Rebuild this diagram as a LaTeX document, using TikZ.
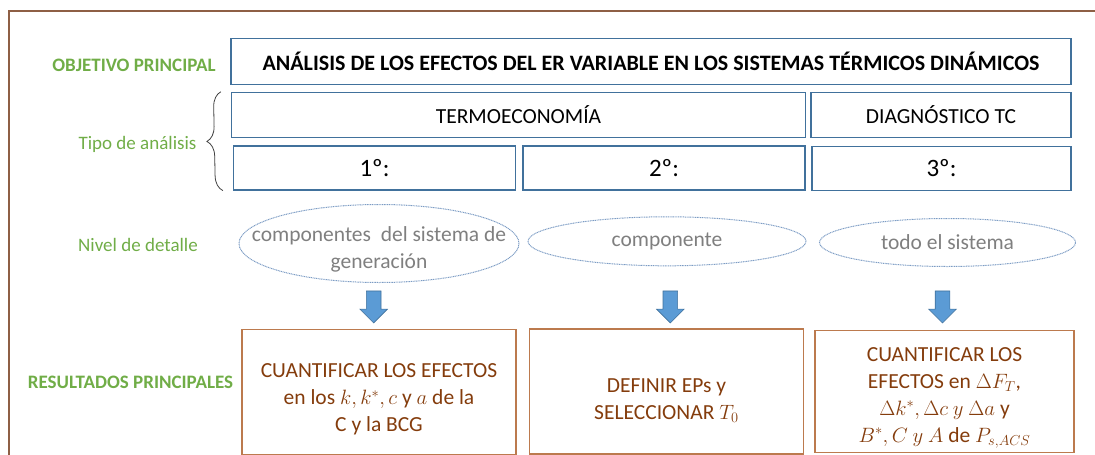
\documentclass[tikz,border=0pt]{standalone}
\usepackage{fontspec}
\setmainfont{Carlito}
\usetikzlibrary{positioning,calc,shapes.geometric,shapes.arrows,decorations.pathreplacing}
\definecolor{leafgreen}{HTML}{70AD47}
\definecolor{boxblue}{HTML}{41719C}
\definecolor{dotblue}{HTML}{7C9CC4}
\definecolor{fillblue}{HTML}{5B9BD5}
\definecolor{rust}{HTML}{843C0C}
\definecolor{rustline}{HTML}{BC7A4E}
\definecolor{framebrown}{HTML}{8E5F45}
\definecolor{midgray}{HTML}{7F7F7F}
\newcommand{\padtop}[1]{\rule{0pt}{#1}}
\tikzset{tag/.style={text=leafgreen,font=\fontsize{19}{23}\selectfont}, bigtag/.style={tag,font=\bfseries\fontsize{19}{23}\selectfont}, cell/.style={draw=boxblue,line width=1.2pt,inner sep=0pt,font=\fontsize{21.5}{26}\selectfont}, level/.style={ellipse,draw=dotblue,line width=1pt,dash pattern=on 1pt off .7pt,text=midgray,align=center,inner xsep=-50pt,inner ysep=-8pt,font=\fontsize{21.5}{27}\selectfont}, result/.style={draw=rustline,line width=1.2pt,text=rust,align=center,inner sep=0pt,font=\fontsize{21.5}{27}\selectfont}, down/.style={single arrow,rotate=-90,fill=fillblue,draw=boxblue,line width=.6pt,minimum height=32pt,minimum width=27pt,single arrow head extend=6.5pt,inner xsep=0pt,inner ysep=7pt}, brace/.style={decorate,decoration={brace,amplitude=15pt},draw=darkgray,line width=.8pt}}

\begin{document}
\begin{tikzpicture}[x=1pt,y=-1pt]
\useasboundingbox (0,0) rectangle (1095,455);
\draw[framebrown,line width=1.6pt] (9,455)--(9,11)--(1095,11);
% row labels
\node[bigtag] (obj) at (134,65) {OBJETIVO PRINCIPAL};
\node[tag] (tipo) at (137.5,144) {Tipo de análisis};
\node[tag] (nivel) at (138,245) {Nivel de detalle};
\node[bigtag] (res) at (130.5,382) {RESULTADOS PRINCIPALES};
% objective and analysis types
\node[cell,minimum width=840pt,minimum height=46pt,font=\bfseries\fontsize{22}{26}\selectfont] (goal) at (651,61.5) {ANÁLISIS DE LOS EFECTOS DEL ER VARIABLE EN LOS SISTEMAS TÉRMICOS DINÁMICOS};
\node[cell,minimum width=574pt,minimum height=45pt] (termo) at (518.5,114.8) {TERMOECONOMÍA};
\node[cell,minimum width=260pt,minimum height=45pt] (diag) at (941,114.8) {DIAGNÓSTICO TC};
\node[cell,minimum width=282pt,minimum height=44pt,font=\fontsize{25}{30}\selectfont] (s1) at (374.5,168) {1º:};
\node[cell,minimum width=282pt,minimum height=44pt,font=\fontsize{25}{30}\selectfont] (s2) at (664,168) {2º:};
\node[cell,minimum width=259pt,minimum height=44pt,font=\fontsize{25}{30}\selectfont] (s3) at (941.5,168.5) {3º:};
\draw[brace] ($(s1.south west)+(-10,0)$)--($(termo.north west)+(-10,0)$);
% detail level
\node[level,minimum width=280pt,minimum height=78pt] (lv1) at (379,243.5) {\padtop{27pt}componentes~ del sistema de\\generación};
\node[level,minimum width=278pt,minimum height=49pt] (lv2) at (667,241.3) {componente};
\node[level,minimum width=256pt,minimum height=48pt] (lv3) at (947.5,242.5) {todo el sistema};
\node[down] (a1) at (373.7,303.3) {};
\node[down] (a2) at (670.3,303.3) {};
\node[down] (a3) at (942.5,303.3) {};
% results
\node[result,minimum width=274pt,minimum height=125pt] (r1) at (379,391.7) {\padtop{30pt}CUANTIFICAR LOS EFECTOS\\en los $k, k^*, c$ y $a$ de la\\C y la BCG};
\node[result,minimum width=274pt,minimum height=125pt] (r2) at (666.5,391.5) {\padtop{32pt}DEFINIR EPs y\\SELECCIONAR $T_0$};
\node[result,minimum width=259pt,minimum height=122pt] (r3) at (944.5,391.7) {\padtop{26pt}CUANTIFICAR LOS\\EFECTOS en $\Delta F_T$,\\$\Delta k^*, \Delta c\ y\ \Delta a$ y\\$B^*, C\ y\ A$ de $P_{s,ACS}$};
\end{tikzpicture}
\end{document}
